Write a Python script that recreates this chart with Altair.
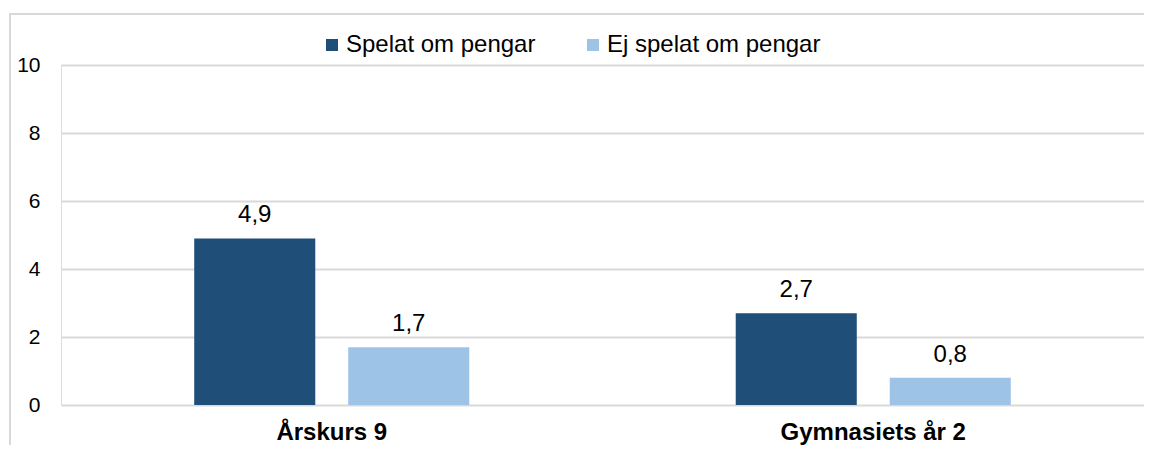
import altair as alt
import pandas as pd

categories = ["Årskurs 9", "Årskurs 9", "Gymnasiets år 2", "Gymnasiets år 2"]
series = ["Spelat om pengar", "Ej spelat om pengar", "Spelat om pengar", "Ej spelat om pengar"]
values = [4.9, 1.7, 2.7, 0.8]
labels = ["4,9", "1,7", "2,7", "0,8"]

series_order = ["Spelat om pengar", "Ej spelat om pengar"]
cat_order = ["Årskurs 9", "Gymnasiets år 2"]
colors = ["#1F4E79", "#9DC3E6"]
y_ticks = [0, 2, 4, 6, 8, 10]

df = pd.DataFrame({"kat": categories, "serie": series, "varde": values, "etikett": labels})

FONT = "Liberation Sans"

x_enc = alt.X("kat:N", sort=cat_order, title=None,
              scale=alt.Scale(paddingInner=0, paddingOuter=0),
              axis=alt.Axis(labelFontWeight="bold", labelFontSize=24, labelFont=FONT,
                            labelColor="#000000", labelPadding=34, labelLimit=500,
                            labelBaseline="alphabetic",
                            ticks=False, domain=False, labelAngle=0, grid=False))
xoff_enc = alt.XOffset("serie:N", sort=series_order,
                       scale=alt.Scale(paddingInner=0.214, paddingOuter=0.865))
y_enc = alt.Y("varde:Q", title=None,
              scale=alt.Scale(domain=[0, 10], nice=False),
              axis=alt.Axis(values=y_ticks, labelFontSize=21, labelFont=FONT,
                            labelColor="#000000", labelPadding=21, ticks=False,
                            domain=False, grid=True, gridColor="#D9D9D9",
                            gridWidth=2))

bars = alt.Chart(df).mark_bar().encode(
    x=x_enc, xOffset=xoff_enc, y=y_enc,
    color=alt.Color("serie:N", sort=series_order, title=None,
                    scale=alt.Scale(domain=series_order, range=colors),
                    legend=alt.Legend(orient="none", legendX=259, legendY=-32,
                                      direction="horizontal", symbolType="square",
                                      symbolSize=144, symbolStrokeWidth=0,
                                      labelFontSize=24, labelFont=FONT, labelLimit=400,
                                      labelColor="#000000", labelOffset=2,
                                      columnPadding=45))
)

text = alt.Chart(df).mark_text(baseline="alphabetic", dy=-16, fontSize=24,
                               font=FONT, color="#000000").encode(
    x=alt.X("kat:N", sort=cat_order), xOffset=alt.XOffset("serie:N", sort=series_order),
    y="varde:Q", text="etikett:N"
)

border_df = pd.DataFrame({"b": [1]})
top_line = alt.Chart(border_df).mark_rule(color="#D9D9D9", strokeWidth=2).encode(
    x=alt.value(-52), x2=alt.value(1100), y=alt.value(-51)
)
left_line = alt.Chart(border_df).mark_rule(color="#D9D9D9", strokeWidth=2).encode(
    x=alt.value(-51), y=alt.value(-52), y2=alt.value(400)
)

chart = alt.layer(bars, text, top_line, left_line).properties(
    width=1083, height=340,
    autosize=alt.AutoSizeParams(type="none"),
    padding={"left": 53, "top": 57, "right": 0, "bottom": 40},
).configure_view(stroke=None).configure(background="#FFFFFF")

chart.save("out.html", embed_options={"renderer": "svg", "actions": False})
